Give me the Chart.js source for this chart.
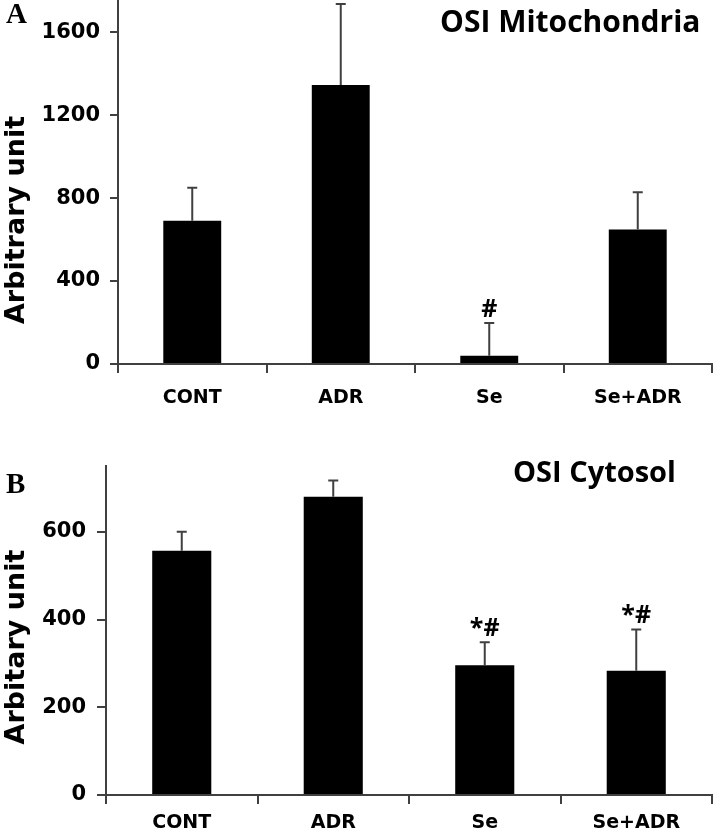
<!DOCTYPE html>
<html>
<head>
<meta charset="utf-8">
<script src="https://cdn.jsdelivr.net/npm/chart.js@4.4.1/dist/chart.umd.min.js"></script>
<style>
  body { margin: 0; background: #fff; }
  canvas { display: block; }
</style>
</head>
<body>
<canvas id="chartA" width="713" height="420"></canvas>
<canvas id="chartB" width="713" height="410"></canvas>
<script>
const categories = ['CONT', 'ADR', 'Se', 'Se+ADR'];

const mitoMeans = [690, 1345, 40, 648];
const mitoErrors = [160, 390, 158, 180];
const mitoMarks = ['', '', '#', ''];
const mitoTicks = [0, 400, 800, 1200, 1600];

const cytoMeans = [557, 680, 296, 283];
const cytoErrors = [43, 37, 52, 94];
const cytoMarks = ['', '', '*#', '*#'];
const cytoTicks = [0, 200, 400, 600];

const AXIS = '#404040';

// upper error bars and significance marks, placed with the y scale
const errorBars = {
    id: 'errorBars',
    afterDatasetsDraw(chart, args, opts) {
        const ctx = chart.ctx;
        const y = chart.scales.y;
        const meta = chart.getDatasetMeta(0);
        ctx.save();
        ctx.strokeStyle = AXIS;
        ctx.lineWidth = 2;
        meta.data.forEach((bar, i) => {
            const top = y.getPixelForValue(opts.means[i] + opts.errors[i]);
            ctx.beginPath();
            ctx.moveTo(bar.x, bar.y);
            ctx.lineTo(bar.x, top);
            ctx.moveTo(bar.x - 5, top);
            ctx.lineTo(bar.x + 5, top);
            ctx.stroke();
            if (opts.marks[i]) {
                ctx.fillStyle = '#000';
                ctx.font = 'bold 25px "Open Sans"';
                ctx.textAlign = 'center';
                ctx.textBaseline = 'bottom';
                ctx.fillText(opts.marks[i], bar.x, top - 1);
            }
        });
        ctx.restore();
    }
};

// panel letter, panel title and rotated y axis title
const panelText = {
    id: 'panelText',
    afterDraw(chart, args, o) {
        const ctx = chart.ctx;
        ctx.save();
        ctx.fillStyle = '#000';
        ctx.textAlign = 'left';
        ctx.textBaseline = 'alphabetic';
        ctx.font = 'bold 29px "Liberation Serif"';
        ctx.fillText(o.letter, o.letterX, o.letterY);
        ctx.font = 'bold ' + o.titleSize + 'px "Open Sans"';
        ctx.fillText(o.title, o.titleX, o.titleY);
        ctx.translate(o.axisX, o.axisY);
        ctx.rotate(-Math.PI / 2);
        ctx.font = 'bold 27px "DejaVu Sans"';
        ctx.textAlign = 'center';
        ctx.textBaseline = 'middle';
        ctx.fillText(o.axisTitle, 0, 0);
        ctx.restore();
    }
};

function makeChart(canvasId, p) {
    const ctx = document.getElementById(canvasId).getContext('2d');
    return new Chart(ctx, {
        type: 'bar',
        data: {
            labels: categories,
            datasets: [{
                data: p.means,
                backgroundColor: '#000',
                borderWidth: 0,
                barPercentage: 0.39,
                categoryPercentage: 1
            }]
        },
        options: {
            responsive: false,
            animation: false,
            layout: { padding: { top: p.top, right: 1, left: 0, bottom: 0 } },
            plugins: {
                legend: { display: false },
                tooltip: { enabled: false },
                errorBars: { means: p.means, errors: p.errors, marks: p.marks },
                panelText: p.text
            },
            scales: {
                x: {
                    afterFit: s => { s.height = p.xHeight; s.paddingLeft = 0; s.paddingRight = 0; },
                    grid: { offset: true, drawOnChartArea: false, tickLength: 9, color: AXIS, lineWidth: 2 },
                    border: { color: AXIS, width: 2 },
                    ticks: { color: '#000', padding: p.xPad, font: { family: 'DejaVu Sans', size: 19, weight: 'bold' } }
                },
                y: {
                    min: 0,
                    max: p.max,
                    afterFit: s => { s.width = p.yWidth; s.paddingTop = 0; s.paddingBottom = 0; },
                    afterBuildTicks: s => { s.ticks = p.ticks.map(v => ({ value: v })); },
                    grid: { drawOnChartArea: false, tickLength: p.yTick, color: AXIS, lineWidth: 2 },
                    border: { color: AXIS, width: 2 },
                    ticks: {
                        color: '#000', padding: p.yPad,
                        callback: v => String(v),
                        font: { family: 'DejaVu Sans', size: 21, weight: 'bold' }
                    }
                }
            }
        },
        plugins: [errorBars, panelText]
    });
}

makeChart('chartA', {
    means: mitoMeans, errors: mitoErrors, marks: mitoMarks, ticks: mitoTicks,
    max: 1750, top: 1, xHeight: 56, yWidth: 118, yTick: 8, yPad: 10, xPad: 14,
    text: { letter: 'A', letterX: 6, letterY: 23, title: 'OSI Mitochondria', titleSize: 30,
            titleX: 440, titleY: 32, axisTitle: 'Arbitrary unit', axisX: 17, axisY: 220 }
});

makeChart('chartB', {
    means: cytoMeans, errors: cytoErrors, marks: cytoMarks, ticks: cytoTicks,
    max: 750, top: 46, xHeight: 35, yWidth: 106, yTick: 9, yPad: 11, xPad: 8,
    text: { letter: 'B', letterX: 6, letterY: 73, title: 'OSI Cytosol', titleSize: 29,
            titleX: 513, titleY: 62, axisTitle: 'Arbitary unit', axisX: 17, axisY: 227 }
});
</script>
</body>
</html>
